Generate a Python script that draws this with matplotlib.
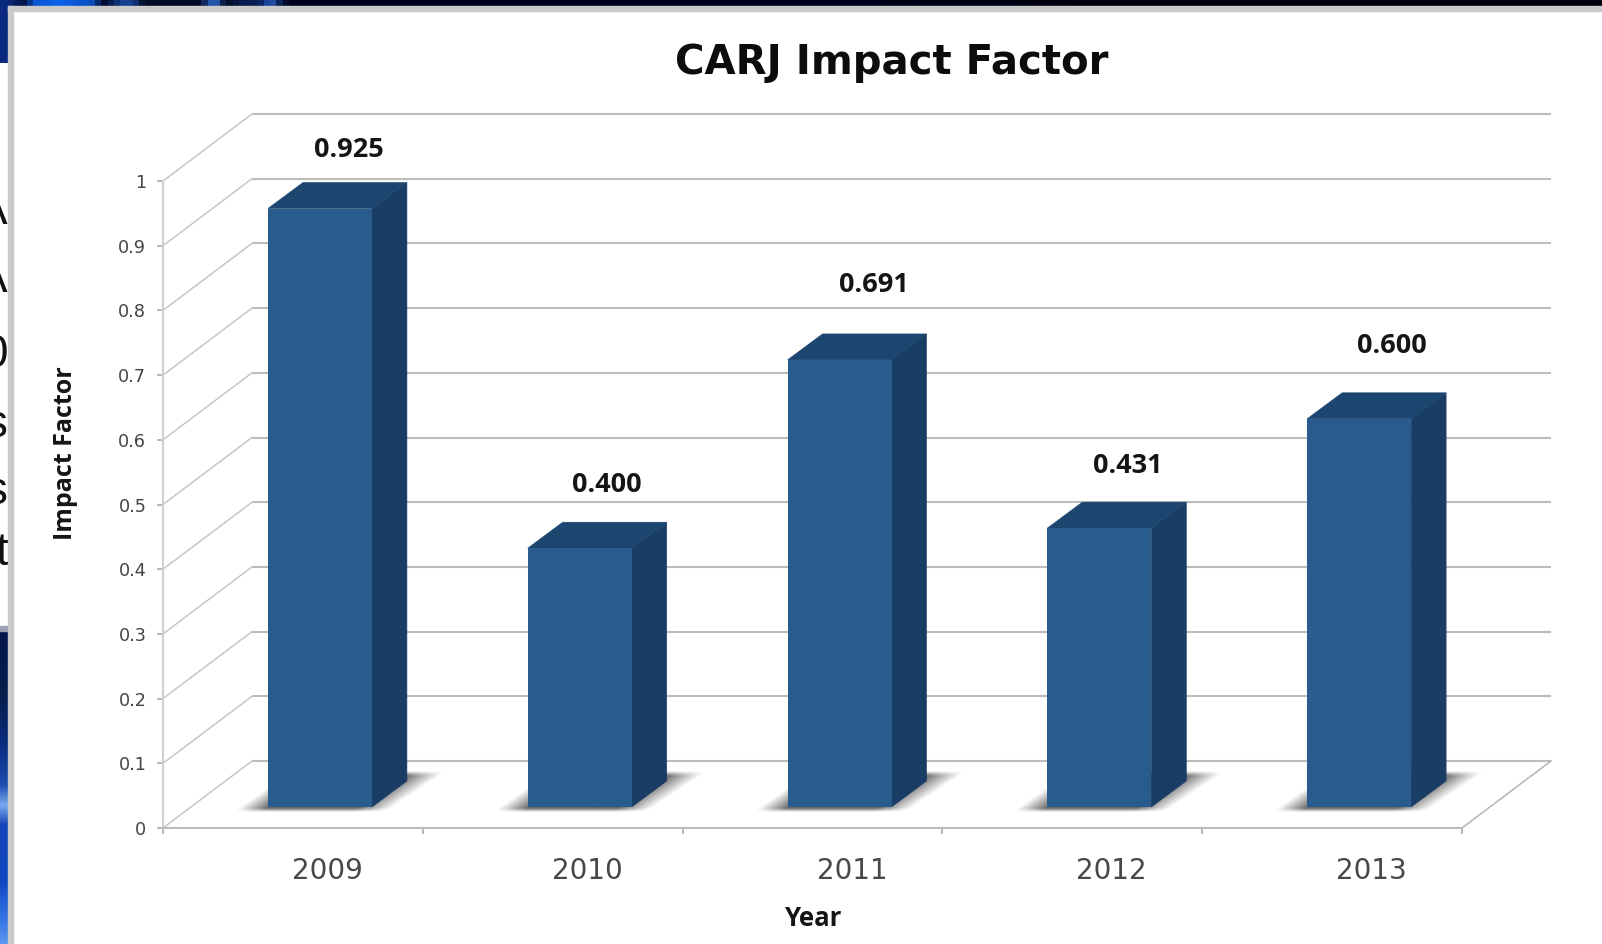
import numpy as np
import matplotlib
matplotlib.use("Agg")
import matplotlib.pyplot as plt
from matplotlib.colors import LinearSegmentedColormap, to_rgb
from matplotlib.patches import Rectangle

years = ["2009", "2010", "2011", "2012", "2013"]
impact = [0.925, 0.400, 0.691, 0.431, 0.600]
value_labels = ["0.925", "0.400", "0.691", "0.431", "0.600"]
y_ticks = [0, 0.1, 0.2, 0.3, 0.4, 0.5, 0.6, 0.7, 0.8, 0.9, 1]
y_tick_labels = ["0", "0.1", "0.2", "0.3", "0.4", "0.5", "0.6", "0.7", "0.8", "0.9", "1"]

W, H = 1602, 944
L, R, T, B = 163, 1462, 181, 828
PXX = 5 / (R - L)
PXY = 1 / (B - T)

FRONT, SIDE, TOP = "#2a5b8f", "#1a3d66", "#1c4670"
GRID = "#bcbcbc"
BOLD = "Open Sans"

fig = plt.figure(figsize=(W / 100, H / 100), dpi=100, facecolor="white")

# ---------- surrounding slide background ----------
bg = fig.add_axes([0, 0, 1, 1], zorder=-1)
bg.set_xlim(0, W)
bg.set_ylim(H, 0)
bg.axis("off")


def strip(stops, extent, horizontal, span):
    cm = LinearSegmentedColormap.from_list(
        "s", [((p - span[0]) / (span[1] - span[0]), c) for p, c in stops])
    g = np.linspace(0, 1, 512)
    g = g[None, :] if horizontal else g[:, None]
    bg.imshow(g, cmap=cm, extent=extent, aspect="auto", interpolation="bilinear", zorder=1)


strip([(0, "#0a2a80"), (20, "#02154a"), (30, "#0a55d0"), (55, "#0b62ea"), (87, "#0a4fc0"),
       (100, "#020c30"), (118, "#14408f"), (128, "#14408f"), (140, "#020a24"), (198, "#020a28"),
       (205, "#2455a8"), (215, "#2455a8"), (222, "#020a24"), (240, "#0a1c50"), (250, "#0a1c50"),
       (260, "#0c2a70"), (268, "#2a5cc0"), (274, "#10306a"), (285, "#00001c"), (800, "#00001e"),
       (1100, "#000010"), (1602, "#00000e")],
      (0, W, 7, 0), True, (0, W))
strip([(0, "#0a2a80"), (62, "#0a2a80")], (0, 9, 63, 0), False, (0, 62))
strip([(630, "#03164a"), (700, "#05204f"), (745, "#0a2c80"), (785, "#1a4fb0"), (805, "#7aa8f0"),
       (825, "#1246b8"), (880, "#0f45c0"), (915, "#2f70e0"), (944, "#5a96f0")],
      (0, 9, H, 630), False, (630, H))
bg.add_patch(Rectangle((0, 626), 9, 5, color="#9aa0b0", zorder=2))
bg.add_patch(Rectangle((8, 6), W - 8, 5, color="#cacaca", zorder=3))
bg.add_patch(Rectangle((8, 6), 5, H - 6, color="#cacaca", zorder=3))
bg.set_xlim(0, W)
bg.set_ylim(H, 0)

clip = Rectangle((0, 62), 8, 568, transform=bg.transData)
for ch, yy in [("A", 212), ("A", 280), ("0", 355), ("s", 425), ("s", 492), ("t", 553)]:
    t = bg.text(8, yy, ch, ha="right", va="center", fontsize=33, color="#111111",
                family="Liberation Sans", zorder=2)
    t.set_clip_path(clip)
    t.set_clip_on(True)

# ---------- main axes: the front plane of the 3-D box ----------
ax = fig.add_axes([L / W, 1 - B / H, (R - L) / W, (B - T) / H], facecolor="none")

wall_dx = 89 * PXX
wall_dy = 67 * PXY
for y in y_ticks:
    ax.plot([wall_dx, 5 + wall_dx], [y + wall_dy] * 2, color=GRID, lw=1.5, clip_on=False, zorder=1,
            solid_capstyle="butt")
    ax.plot([0, wall_dx], [y, y + wall_dy], color="#c6c6c6", lw=1.1, clip_on=False, zorder=1)
ax.plot([5, 5 + wall_dx], [0, wall_dy], color="#b4b4b4", lw=1.1, clip_on=False, zorder=1)

bar_w = 104 * PXX
bar_dx = 35 * PXX
bar_dy = 26 * PXY
base = 21 * PXY
centers = [i + 0.604 for i in range(len(years))]
shadow_rgb = to_rgb("#4a4a4a")


def draw_shadow(x0, x1):
    """Soft parallelogram shadow on the floor, with faded ends."""
    xs = np.arange(-45, 200)
    ys = np.arange(-8, 44)
    gx, gy = np.meshgrid(xs + 0.5, ys + 0.5)
    v = np.clip((gy + 5) / 40, 0, 1)
    left = -35 + 57 * v
    right = 13 + (x1 - x0) / PXX + 60 * v
    a = np.clip((gx - left) / 30, 0, 1) * np.clip((right - gx) / 34, 0, 1)
    a = a * np.clip((gy + 5) / 4, 0, 1) * np.clip((36 - gy) / 5, 0, 1) * 0.85
    rgba = np.zeros(a.shape + (4,))
    rgba[..., :3] = shadow_rgb
    rgba[..., 3] = a
    ax.imshow(rgba, origin="lower", aspect="auto", interpolation="bilinear", zorder=2, clip_on=False,
              extent=(x0 + xs[0] * PXX, x0 + (xs[-1] + 1) * PXX,
                      base + ys[0] * PXY, base + (ys[-1] + 1) * PXY))


for c, v in zip(centers, impact):
    x0, x1 = c - bar_w / 2, c + bar_w / 2
    draw_shadow(x0, x1)
    top = base + v
    ax.fill([x1, x1 + bar_dx, x1 + bar_dx, x1],
            [base, base + bar_dy, top + bar_dy, top],
            facecolor=SIDE, edgecolor=SIDE, lw=0.4, zorder=3, clip_on=False)
    ax.fill([x0, x1, x1 + bar_dx, x0 + bar_dx],
            [top, top, top + bar_dy, top + bar_dy],
            facecolor=TOP, edgecolor=TOP, lw=0.4, zorder=3, clip_on=False)
    ax.bar(c, v, width=bar_w, bottom=base, color=FRONT, zorder=4, clip_on=False, linewidth=0)

ax.set_xlim(0, 5)
ax.set_ylim(0, 1)

# value labels (their offsets from the bars differ slightly in the reference)
label_dx = [29, 27, 34, 28, 33]
label_up = [59, 63, 75, 62, 73]
for c, v, s, dx, up in zip(centers, impact, value_labels, label_dx, label_up):
    ax.text(c + dx * PXX, base + v + up * PXY, s, ha="center", va="center", zorder=6,
            fontsize=19.5, fontweight="bold", family=BOLD, color="#151515", clip_on=False)

# axes furniture
for s in ("top", "right"):
    ax.spines[s].set_visible(False)
for s in ("left", "bottom"):
    ax.spines[s].set_color(GRID)
    ax.spines[s].set_linewidth(1.5)
ax.spines["left"].set_color("#d0d0d0")

ax.set_yticks(y_ticks)
ax.set_yticklabels(y_tick_labels, fontsize=12.7, color="#444444")
ax.tick_params(axis="y", length=4, width=1.2, color="#aaaaaa", pad=8)
ax.set_xticks(range(6))
ax.set_xticklabels([])
ax.tick_params(axis="x", which="major", length=4, width=1.2, color="#aaaaaa")
year_label_pos = [0.634, 1.634, 2.655, 3.652, 4.652]
ax.set_xticks(year_label_pos, minor=True)
ax.set_xticklabels(years, minor=True, fontsize=20, color="#484848")
ax.tick_params(axis="x", which="minor", length=0, pad=21)

fig.text(892 / W, 1 - 63 / H, "CARJ Impact Factor", ha="center", va="center",
         fontsize=29, fontweight="bold", color="#0c0c0c", family="DejaVu Sans")
fig.text(66 / W, 1 - 453 / H, "Impact Factor", ha="center", va="center", rotation=90,
         fontsize=18, fontweight="bold", family=BOLD, color="#151515")
fig.text(814 / W, 1 - 919 / H, "Year", ha="center", va="center",
         fontsize=18.5, fontweight="bold", family=BOLD, color="#151515")

fig.savefig("out.png", dpi=100)
